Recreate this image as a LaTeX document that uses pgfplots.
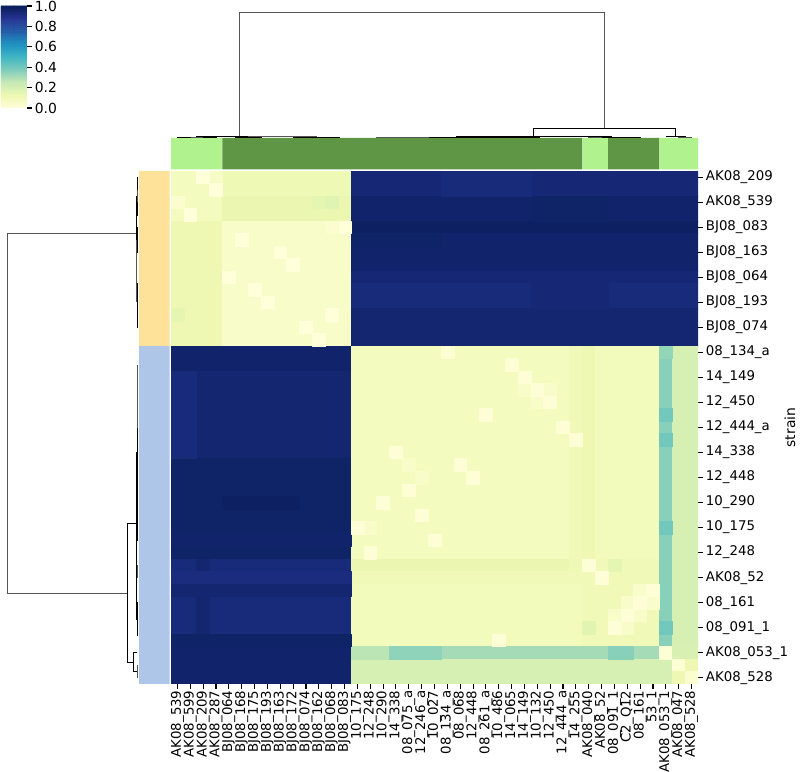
\documentclass[border=0pt]{standalone}
\usepackage{pgfplots}
\pgfplotsset{compat=1.18}
\usepgfplotslibrary{patchplots}
\usepackage{fontspec}
\setmainfont{DejaVu Sans}
\definecolor{lgreen}{RGB}{176,242,141}
\definecolor{dgreen}{RGB}{95,150,70}
\definecolor{rowyel}{RGB}{254,226,154}
\definecolor{rowblu}{RGB}{174,199,232}
\definecolor{dendc}{RGB}{85,85,85}
\pgfplotsset{colormap={ylgnbu}{rgb255=(255,255,217) rgb255=(237,248,177) rgb255=(199,233,180) rgb255=(127,205,187) rgb255=(65,182,196) rgb255=(29,145,192) rgb255=(34,94,168) rgb255=(37,52,148) rgb255=(8,29,88)}}
\begin{document}
\begin{tikzpicture}
\useasboundingbox (0,0) rectangle (576pt,555.84pt);
% heatmap
\begin{axis}[
  at={(123.12pt,63.36pt)}, anchor=south west, scale only axis,
  width=379.44pt, height=369.36pt,
  xmin=-0.5, xmax=40.5, ymin=-0.5, ymax=40.5, enlargelimits=false,
  colormap name=ylgnbu, point meta min=0, point meta max=100,
  axis line style={draw=none},
  tick align=outside, major tick length=3.5pt,
  major tick style={line width=0.8pt, black},
  tick label style={font=\fontsize{9.6pt}{11pt}\selectfont},
  xtick pos=left, ytick pos=right, yticklabel pos=right,
  xtick={0,...,40},
  xticklabels={AK08\_539,AK08\_599,AK08\_209,AK08\_287,BJ08\_064,BJ08\_168,BJ08\_175,BJ08\_193,BJ08\_163,BJ08\_172,BJ08\_074,BJ08\_162,BJ08\_068,BJ08\_083,10\_175,12\_248,10\_290,14\_338,08\_075\_a,12\_246\_a,10\_027,08\_134\_a,08\_068,12\_448,08\_261\_a,10\_486,14\_065,14\_149,10\_132,12\_450,12\_444\_a,14\_255,AK08\_040,AK08\_52,08\_091\_1,C2\_Q12,08\_161,53\_1,AK08\_053\_1,AK08\_047,AK08\_528},
  xticklabel style={rotate=90, anchor=east, inner sep=1pt},
  ytick={0,2,...,40},
  yticklabels={AK08\_528,AK08\_053\_1,08\_091\_1,08\_161,AK08\_52,12\_248,10\_175,10\_290,12\_448,14\_338,12\_444\_a,12\_450,14\_149,08\_134\_a,BJ08\_074,BJ08\_193,BJ08\_064,BJ08\_163,BJ08\_083,AK08\_539,AK08\_209},
  yticklabel style={anchor=west, inner sep=2pt},
]
% blocks of cells (x = column, y = 40 - row), value x100
\addplot[patch, patch type=rectangle, shader=flat, point meta=explicit] coordinates {
(-0.5,36.5) [8] (3.5,36.5) [8] (3.5,40.5) [8] (-0.5,40.5) [8]
(3.5,38.5) [11] (13.5,38.5) [11] (13.5,40.5) [11] (3.5,40.5) [11]
(3.5,36.5) [13] (13.5,36.5) [13] (13.5,38.5) [13] (3.5,38.5) [13]
(-0.5,26.5) [12] (3.5,26.5) [12] (3.5,36.5) [12] (-0.5,36.5) [12]
(3.5,26.5) [5] (13.5,26.5) [5] (13.5,36.5) [5] (3.5,36.5) [5]
(13.5,38.5) [94] (40.5,38.5) [94] (40.5,40.5) [94] (13.5,40.5) [94]
(13.5,36.5) [96] (40.5,36.5) [96] (40.5,38.5) [96] (13.5,38.5) [96]
(13.5,35.5) [98] (40.5,35.5) [98] (40.5,36.5) [98] (13.5,36.5) [98]
(13.5,32.5) [96] (40.5,32.5) [96] (40.5,35.5) [96] (13.5,35.5) [96]
(13.5,31.5) [94] (40.5,31.5) [94] (40.5,32.5) [94] (13.5,32.5) [94]
(13.5,29.5) [93] (40.5,29.5) [93] (40.5,31.5) [93] (13.5,31.5) [93]
(13.5,26.5) [95] (40.5,26.5) [95] (40.5,29.5) [95] (13.5,29.5) [95]
(-0.5,24.5) [96] (13.5,24.5) [96] (13.5,26.5) [96] (-0.5,26.5) [96]
(-0.5,17.5) [95] (13.5,17.5) [95] (13.5,24.5) [95] (-0.5,24.5) [95]
(-0.5,9.5) [97] (13.5,9.5) [97] (13.5,17.5) [97] (-0.5,17.5) [97]
(-0.5,3.5) [93] (13.5,3.5) [93] (13.5,9.5) [93] (-0.5,9.5) [93]
(-0.5,-0.5) [96] (13.5,-0.5) [96] (13.5,3.5) [96] (-0.5,3.5) [96]
(13.5,9.5) [8] (31.5,9.5) [8] (31.5,26.5) [8] (13.5,26.5) [8]
(31.5,9.5) [12] (32.5,9.5) [12] (32.5,26.5) [12] (31.5,26.5) [12]
(32.5,9.5) [9] (33.5,9.5) [9] (33.5,26.5) [9] (32.5,26.5) [9]
(33.5,9.5) [9] (37.5,9.5) [9] (37.5,26.5) [9] (33.5,26.5) [9]
(13.5,8.5) [13] (31.5,8.5) [13] (31.5,9.5) [13] (13.5,9.5) [13]
(13.5,7.5) [10] (31.5,7.5) [10] (31.5,8.5) [10] (13.5,8.5) [10]
(13.5,2.5) [9] (31.5,2.5) [9] (31.5,7.5) [9] (13.5,7.5) [9]
(31.5,2.5) [10] (37.5,2.5) [10] (37.5,9.5) [10] (31.5,9.5) [10]
(37.5,2.5) [36] (38.5,2.5) [36] (38.5,26.5) [36] (37.5,26.5) [36]
(38.5,2.5) [20] (40.5,2.5) [20] (40.5,26.5) [20] (38.5,26.5) [20]
(13.5,1.5) [31] (37.5,1.5) [31] (37.5,2.5) [31] (13.5,2.5) [31]
(13.5,-0.5) [20] (38.5,-0.5) [20] (38.5,1.5) [20] (13.5,1.5) [20]
(37.5,1.5) [2] (38.5,1.5) [2] (38.5,2.5) [2] (37.5,2.5) [2]
(38.5,1.5) [19] (40.5,1.5) [19] (40.5,2.5) [19] (38.5,2.5) [19]
(38.5,0.5) [2] (39.5,0.5) [2] (39.5,1.5) [2] (38.5,1.5) [2]
(39.5,0.5) [12] (40.5,0.5) [12] (40.5,1.5) [12] (39.5,1.5) [12]
(38.5,-0.5) [12] (39.5,-0.5) [12] (39.5,0.5) [12] (38.5,0.5) [12]
(39.5,-0.5) [3] (40.5,-0.5) [3] (40.5,0.5) [3] (39.5,0.5) [3]
(-0.5,17.5) [93] (1.5,17.5) [93] (1.5,24.5) [93] (-0.5,24.5) [93]
(27.5,36.5) [97] (33.5,36.5) [97] (33.5,38.5) [97] (27.5,38.5) [97]
(1.5,3.5) [95] (2.5,3.5) [95] (2.5,9.5) [95] (1.5,9.5) [95]
(27.5,29.5) [94] (33.5,29.5) [94] (33.5,31.5) [94] (27.5,31.5) [94]
(3.5,13.5) [98] (9.5,13.5) [98] (9.5,14.5) [98] (3.5,14.5) [98]
(-0.5,7.5) [92] (13.5,7.5) [92] (13.5,8.5) [92] (-0.5,8.5) [92]
(-0.5,6.5) [95] (13.5,6.5) [95] (13.5,7.5) [95] (-0.5,7.5) [95]
(13.5,1.5) [27] (16.5,1.5) [27] (16.5,2.5) [27] (13.5,2.5) [27]
(16.5,1.5) [35] (20.5,1.5) [35] (20.5,2.5) [35] (16.5,2.5) [35]
(33.5,1.5) [36] (35.5,1.5) [36] (35.5,2.5) [36] (33.5,2.5) [36]
(33.5,8.5) [15] (34.5,8.5) [15] (34.5,9.5) [15] (33.5,9.5) [15]
(31.5,3.5) [16] (32.5,3.5) [16] (32.5,4.5) [16] (31.5,4.5) [16]
(37.5,20.5) [40] (38.5,20.5) [40] (38.5,21.5) [40] (37.5,21.5) [40]
(37.5,18.5) [40] (38.5,18.5) [40] (38.5,19.5) [40] (37.5,19.5) [40]
(37.5,11.5) [40] (38.5,11.5) [40] (38.5,12.5) [40] (37.5,12.5) [40]
(37.5,3.5) [40] (38.5,3.5) [40] (38.5,4.5) [40] (37.5,4.5) [40]
(37.5,25.5) [34] (38.5,25.5) [34] (38.5,26.5) [34] (37.5,26.5) [34]
(2.5,39.5) [6] (3.5,39.5) [6] (3.5,40.5) [6] (2.5,40.5) [6]
(10.5,37.5) [15] (11.5,37.5) [15] (11.5,38.5) [15] (10.5,38.5) [15]
(11.5,37.5) [17] (12.5,37.5) [17] (12.5,38.5) [17] (11.5,38.5) [17]
(-0.5,28.5) [15] (0.5,28.5) [15] (0.5,29.5) [15] (-0.5,29.5) [15]
(30.5,9.5) [10] (31.5,9.5) [10] (31.5,26.5) [10] (30.5,26.5) [10]
(30.5,8.5) [11] (31.5,8.5) [11] (31.5,9.5) [11] (30.5,9.5) [11]
(13.5,34.5) [97] (20.5,34.5) [97] (20.5,35.5) [97] (13.5,35.5) [97]
(-0.5,10.5) [96] (13.5,10.5) [96] (13.5,11.5) [96] (-0.5,11.5) [96]
(-0.5,2.5) [97] (13.5,2.5) [97] (13.5,3.5) [97] (-0.5,3.5) [97]
(20.5,38.5) [93] (27.5,38.5) [93] (27.5,40.5) [93] (20.5,40.5) [93]
};
% single cells near the diagonal of each cluster
\addplot[patch, patch type=rectangle, shader=flat, point meta=explicit] coordinates {
(1.5,39.5) [0] (2.5,39.5) [0] (2.5,40.5) [0] (1.5,40.5) [0]
(2.5,38.5) [0] (3.5,38.5) [0] (3.5,39.5) [0] (2.5,39.5) [0]
(-0.5,37.5) [3] (0.5,37.5) [3] (0.5,38.5) [3] (-0.5,38.5) [3]
(0.5,36.5) [0] (1.5,36.5) [0] (1.5,37.5) [0] (0.5,37.5) [0]
(12.5,35.5) [0] (13.5,35.5) [0] (13.5,36.5) [0] (12.5,36.5) [0]
(11.5,35.5) [3] (12.5,35.5) [3] (12.5,36.5) [3] (11.5,36.5) [3]
(4.5,34.5) [0] (5.5,34.5) [0] (5.5,35.5) [0] (4.5,35.5) [0]
(7.5,33.5) [0] (8.5,33.5) [0] (8.5,34.5) [0] (7.5,34.5) [0]
(8.5,32.5) [0] (9.5,32.5) [0] (9.5,33.5) [0] (8.5,33.5) [0]
(3.5,31.5) [0] (4.5,31.5) [0] (4.5,32.5) [0] (3.5,32.5) [0]
(5.5,30.5) [0] (6.5,30.5) [0] (6.5,31.5) [0] (5.5,31.5) [0]
(6.5,29.5) [0] (7.5,29.5) [0] (7.5,30.5) [0] (6.5,30.5) [0]
(11.5,28.5) [0] (12.5,28.5) [0] (12.5,29.5) [0] (11.5,29.5) [0]
(9.5,27.5) [0] (10.5,27.5) [0] (10.5,28.5) [0] (9.5,28.5) [0]
(10.5,26.5) [0] (11.5,26.5) [0] (11.5,27.5) [0] (10.5,27.5) [0]
(26.5,22.5) [5] (27.5,22.5) [5] (27.5,23.5) [5] (26.5,23.5) [5]
(28.5,22.5) [5] (29.5,22.5) [5] (29.5,23.5) [5] (28.5,23.5) [5]
(27.5,21.5) [5] (28.5,21.5) [5] (28.5,22.5) [5] (27.5,22.5) [5]
(14.5,11.5) [5] (15.5,11.5) [5] (15.5,12.5) [5] (14.5,12.5) [5]
(17.5,16.5) [5] (18.5,16.5) [5] (18.5,17.5) [5] (17.5,17.5) [5]
(18.5,15.5) [5] (19.5,15.5) [5] (19.5,16.5) [5] (18.5,16.5) [5]
(20.5,25.5) [2] (21.5,25.5) [2] (21.5,26.5) [2] (20.5,26.5) [2]
(25.5,24.5) [1] (26.5,24.5) [1] (26.5,25.5) [1] (25.5,25.5) [1]
(26.5,23.5) [1] (27.5,23.5) [1] (27.5,24.5) [1] (26.5,24.5) [1]
(27.5,22.5) [1] (28.5,22.5) [1] (28.5,23.5) [1] (27.5,23.5) [1]
(28.5,21.5) [1] (29.5,21.5) [1] (29.5,22.5) [1] (28.5,22.5) [1]
(23.5,20.5) [1] (24.5,20.5) [1] (24.5,21.5) [1] (23.5,21.5) [1]
(29.5,19.5) [1] (30.5,19.5) [1] (30.5,20.5) [1] (29.5,20.5) [1]
(30.5,18.5) [1] (31.5,18.5) [1] (31.5,19.5) [1] (30.5,19.5) [1]
(16.5,17.5) [1] (17.5,17.5) [1] (17.5,18.5) [1] (16.5,18.5) [1]
(21.5,16.5) [1] (22.5,16.5) [1] (22.5,17.5) [1] (21.5,17.5) [1]
(22.5,15.5) [1] (23.5,15.5) [1] (23.5,16.5) [1] (22.5,16.5) [1]
(17.5,14.5) [1] (18.5,14.5) [1] (18.5,15.5) [1] (17.5,15.5) [1]
(15.5,13.5) [1] (16.5,13.5) [1] (16.5,14.5) [1] (15.5,14.5) [1]
(18.5,12.5) [1] (19.5,12.5) [1] (19.5,13.5) [1] (18.5,13.5) [1]
(13.5,11.5) [1] (14.5,11.5) [1] (14.5,12.5) [1] (13.5,12.5) [1]
(19.5,10.5) [1] (20.5,10.5) [1] (20.5,11.5) [1] (19.5,11.5) [1]
(14.5,9.5) [1] (15.5,9.5) [1] (15.5,10.5) [1] (14.5,10.5) [1]
(31.5,8.5) [1] (32.5,8.5) [1] (32.5,9.5) [1] (31.5,9.5) [1]
(32.5,7.5) [1] (33.5,7.5) [1] (33.5,8.5) [1] (32.5,8.5) [1]
(35.5,6.5) [4] (36.5,6.5) [4] (36.5,7.5) [4] (35.5,7.5) [4]
(36.5,5.5) [4] (37.5,5.5) [4] (37.5,6.5) [4] (36.5,6.5) [4]
(34.5,5.5) [5] (35.5,5.5) [5] (35.5,6.5) [5] (34.5,6.5) [5]
(35.5,4.5) [5] (36.5,4.5) [5] (36.5,5.5) [5] (35.5,5.5) [5]
(33.5,4.5) [5] (34.5,4.5) [5] (34.5,5.5) [5] (33.5,5.5) [5]
(34.5,3.5) [5] (35.5,3.5) [5] (35.5,4.5) [5] (34.5,4.5) [5]
(36.5,6.5) [1] (37.5,6.5) [1] (37.5,7.5) [1] (36.5,7.5) [1]
(35.5,5.5) [1] (36.5,5.5) [1] (36.5,6.5) [1] (35.5,6.5) [1]
(34.5,4.5) [1] (35.5,4.5) [1] (35.5,5.5) [1] (34.5,5.5) [1]
(33.5,3.5) [1] (34.5,3.5) [1] (34.5,4.5) [1] (33.5,4.5) [1]
(24.5,2.5) [1] (25.5,2.5) [1] (25.5,3.5) [1] (24.5,3.5) [1]
};
\end{axis}
% column colours
\begin{axis}[
  at={(123.12pt,433.8pt)}, anchor=south west, scale only axis,
  width=379.44pt, height=22.68pt,
  xmin=-0.5, xmax=40.5, ymin=0, ymax=1, hide axis,
]
\addplot[fill=lgreen, draw=none] coordinates {(-0.5,0) (3.5,0) (3.5,1) (-0.5,1) (-0.5,0)};
\addplot[fill=dgreen, draw=none] coordinates {(3.5,0) (31.5,0) (31.5,1) (3.5,1) (3.5,0)};
\addplot[fill=lgreen, draw=none] coordinates {(31.5,0) (33.5,0) (33.5,1) (31.5,1) (31.5,0)};
\addplot[fill=dgreen, draw=none] coordinates {(33.5,0) (37.5,0) (37.5,1) (33.5,1) (33.5,0)};
\addplot[fill=lgreen, draw=none] coordinates {(37.5,0) (40.5,0) (40.5,1) (37.5,1) (37.5,0)};
\end{axis}
% row colours
\begin{axis}[
  at={(100.08pt,63.36pt)}, anchor=south west, scale only axis,
  width=21.96pt, height=369.36pt,
  xmin=0, xmax=1, ymin=-0.5, ymax=40.5, hide axis,
]
\addplot[fill=rowyel, draw=none] coordinates {(0,26.5) (1,26.5) (1,40.5) (0,40.5) (0,26.5)};
\addplot[fill=rowblu, draw=none] coordinates {(0,-0.5) (1,-0.5) (1,26.5) (0,26.5) (0,-0.5)};
\end{axis}
% column dendrogram
\begin{axis}[
  at={(123.12pt,456.84pt)}, anchor=south west, scale only axis,
  width=379.44pt, height=92.16pt,
  xmin=-0.5, xmax=40.5, ymin=0, ymax=128, hide axis, clip=false,
  cycle list={{dendc, line width=0.6pt, mark=none}},
]
\addplot coordinates {(4.83,1.6) (4.83,125.5) (33.24,125.5) (33.24,9.1)};
\addplot coordinates {(27.72,0.8) (27.72,9.1) (38.75,9.1) (38.75,1.6)};
\addplot coordinates {(38,0) (38,1.6) (39.5,1.6) (39.5,0.5)};
\addplot coordinates {(39,0) (39,0.5) (40,0.5) (40,0)};
\addplot coordinates {(21.68,0.5) (21.68,0.8) (33.76,0.8) (33.76,0.6)};
\addplot coordinates {(17.5,0.3) (17.5,0.5) (25.86,0.5) (25.86,0.3)};
\addplot coordinates {(15.5,0) (15.5,0.3) (19.5,0.3) (19.5,0)};
\addplot coordinates {(23.5,0) (23.5,0.3) (28.2,0.3) (28.2,0)};
\addplot coordinates {(32.5,0.2) (32.5,0.6) (35,0.6) (35,0.3)};
\addplot coordinates {(32,0) (32,0.2) (33,0.2) (33,0)};
\addplot coordinates {(34,0) (34,0.3) (36,0.3) (36,0)};
\addplot coordinates {(1.5,0.6) (1.5,1.6) (8.16,1.6) (8.16,0.9)};
\addplot coordinates {(0.5,0.3) (0.5,0.6) (2.5,0.6) (2.5,0.3)};
\addplot coordinates {(0,0) (0,0.3) (1,0.3) (1,0)};
\addplot coordinates {(2,0) (2,0.3) (3,0.3) (3,0)};
\addplot coordinates {(5.5,0.4) (5.5,0.9) (10.82,0.9) (10.82,0.5)};
\addplot coordinates {(4.5,0) (4.5,0.4) (6.5,0.4) (6.5,0)};
\addplot coordinates {(9,0) (9,0.5) (12.6,0.5) (12.6,0)};
\end{axis}
% row dendrogram
\begin{axis}[
  at={(2.88pt,63.36pt)}, anchor=south west, scale only axis,
  width=96.12pt, height=369.36pt,
  xmin=0, xmax=133.5, x dir=reverse, ymin=-0.5, ymax=40.5, hide axis, clip=false,
  cycle list={{dendc, line width=0.6pt, mark=none}},
]
\addplot coordinates {(1.5,35.52) (129.9,35.52) (129.9,6.75) (10.1,6.75)};
\addplot coordinates {(1.2,12.3) (10.1,12.3) (10.1,1.25) (4.5,1.25)};
\addplot coordinates {(0,2) (4.5,2) (4.5,0.5) (0.6,0.5)};
\addplot coordinates {(0,1) (0.6,1) (0.6,0) (0,0)};
\addplot coordinates {(0.7,18) (1.2,18) (1.2,6.6) (0.8,6.6)};
\addplot coordinates {(0.4,22.5) (0.7,22.5) (0.7,13.5) (0.3,13.5)};
\addplot coordinates {(0,25) (0.4,25) (0.4,20) (0,20)};
\addplot coordinates {(0,16) (0.3,16) (0.3,11) (0,11)};
\addplot coordinates {(0.3,8.5) (0.8,8.5) (0.8,4.7) (0.4,4.7)};
\addplot coordinates {(0,9) (0.3,9) (0.3,8) (0,8)};
\addplot coordinates {(0,6) (0.4,6) (0.4,3.4) (0,3.4)};
\addplot coordinates {(0.6,38.5) (1.5,38.5) (1.5,32.54) (0.9,32.54)};
\addplot coordinates {(0.3,39.5) (0.6,39.5) (0.6,37.5) (0.3,37.5)};
\addplot coordinates {(0,40) (0.3,40) (0.3,39) (0,39)};
\addplot coordinates {(0,38) (0.3,38) (0.3,37) (0,37)};
\addplot coordinates {(0.5,35) (0.9,35) (0.9,30.1) (0.6,30.1)};
\addplot coordinates {(0,36) (0.5,36) (0.5,34) (0,34)};
\addplot coordinates {(0,31.5) (0.6,31.5) (0.6,28) (0,28)};
\end{axis}
% colour bar
\begin{axis}[
  at={(0.72pt,478.08pt)}, anchor=south west, scale only axis,
  width=18.72pt, height=73.44pt,
  xmin=-0.5, xmax=1.5, ymin=0, ymax=1, enlargelimits=false,
  colormap name=ylgnbu, point meta min=0, point meta max=1,
  axis line style={draw=none},
  xtick=\empty,
  ytick={0,0.2,0.4,0.6,0.8,1},
  yticklabels={0.0,0.2,0.4,0.6,0.8,1.0},
  ytick pos=right, yticklabel pos=right,
  tick align=outside, major tick length=3.5pt,
  major tick style={line width=0.8pt, black},
  yticklabel style={anchor=west, inner sep=2pt},
]
\addplot[matrix plot*, mesh/cols=2, point meta=y] coordinates {
(0,0.01) (1,0.01) (0,0.03) (1,0.03) (0,0.05) (1,0.05) (0,0.07) (1,0.07) (0,0.09) (1,0.09)
(0,0.11) (1,0.11) (0,0.13) (1,0.13) (0,0.15) (1,0.15) (0,0.17) (1,0.17) (0,0.19) (1,0.19)
(0,0.21) (1,0.21) (0,0.23) (1,0.23) (0,0.25) (1,0.25) (0,0.27) (1,0.27) (0,0.29) (1,0.29)
(0,0.31) (1,0.31) (0,0.33) (1,0.33) (0,0.35) (1,0.35) (0,0.37) (1,0.37) (0,0.39) (1,0.39)
(0,0.41) (1,0.41) (0,0.43) (1,0.43) (0,0.45) (1,0.45) (0,0.47) (1,0.47) (0,0.49) (1,0.49)
(0,0.51) (1,0.51) (0,0.53) (1,0.53) (0,0.55) (1,0.55) (0,0.57) (1,0.57) (0,0.59) (1,0.59)
(0,0.61) (1,0.61) (0,0.63) (1,0.63) (0,0.65) (1,0.65) (0,0.67) (1,0.67) (0,0.69) (1,0.69)
(0,0.71) (1,0.71) (0,0.73) (1,0.73) (0,0.75) (1,0.75) (0,0.77) (1,0.77) (0,0.79) (1,0.79)
(0,0.81) (1,0.81) (0,0.83) (1,0.83) (0,0.85) (1,0.85) (0,0.87) (1,0.87) (0,0.89) (1,0.89)
(0,0.91) (1,0.91) (0,0.93) (1,0.93) (0,0.95) (1,0.95) (0,0.97) (1,0.97) (0,0.99) (1,0.99)
};
\end{axis}
\node[rotate=90] at (568.8pt,248.04pt) {strain};
\end{tikzpicture}
\end{document}
